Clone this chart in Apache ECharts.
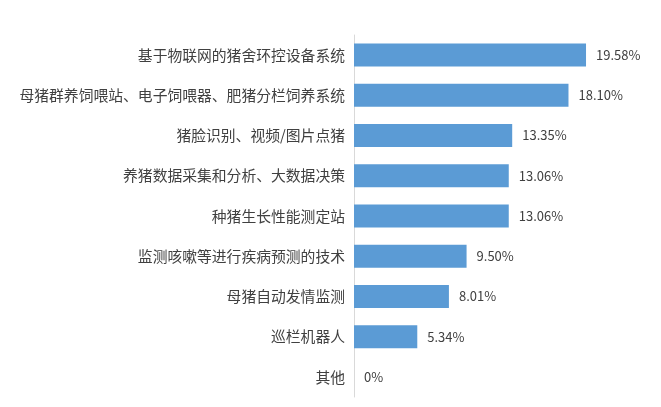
<!DOCTYPE html>
<html>
<head>
<meta charset="utf-8">
<script src="https://cdn.jsdelivr.net/npm/echarts@6/dist/echarts.min.js"></script>
<style>
    html, body { margin: 0; padding: 0; background: #fff; }
    #chart { width: 661px; height: 407px; }
</style>
</head>
<body>
<div id="chart"></div>
<script>
// 类别与数值（从上到下）
const categories = [
    '基于物联网的猪舍环控设备系统',
    '母猪群养饲喂站、电子饲喂器、肥猪分栏饲养系统',
    '猪脸识别、视频/图片点猪',
    '养猪数据采集和分析、大数据决策',
    '种猪生长性能测定站',
    '监测咳嗽等进行疾病预测的技术',
    '母猪自动发情监测',
    '巡栏机器人',
    '其他'
];
const values = [19.58, 18.10, 13.35, 13.06, 13.06, 9.50, 8.01, 5.34, 0];
const valueLabels = ['19.58%', '18.10%', '13.35%', '13.06%', '13.06%', '9.50%', '8.01%', '5.34%', '0%'];

let myChart = echarts.init(document.getElementById('chart'));

const option = {
    backgroundColor: '#fff',
    animation: false,
    grid: {
        left: 354,
        right: 70,
        top: 35,
        bottom: 10
    },
    xAxis: {
        type: 'value',
        min: 0,
        max: 20,
        show: false
    },
    yAxis: {
        type: 'category',
        inverse: true,
        data: categories,
        axisTick: { show: false },
        axisLine: {
            lineStyle: { color: '#d9d9d9', width: 1 }
        },
        axisLabel: {
            margin: 9,
            fontSize: 14.8,
            color: '#404040',
            fontFamily: 'Noto Sans CJK SC'
        }
    },
    series: [
        {
            type: 'bar',
            data: values,
            barWidth: 23,
            itemStyle: { color: '#5b9bd5' },
            label: {
                show: true,
                position: 'right',
                distance: 10,
                fontSize: 13,
                color: '#404040',
                fontFamily: 'Noto Sans CJK SC',
                formatter: p => valueLabels[p.dataIndex]
            }
        }
    ]
};

myChart.setOption(option);
</script>
</body>
</html>
